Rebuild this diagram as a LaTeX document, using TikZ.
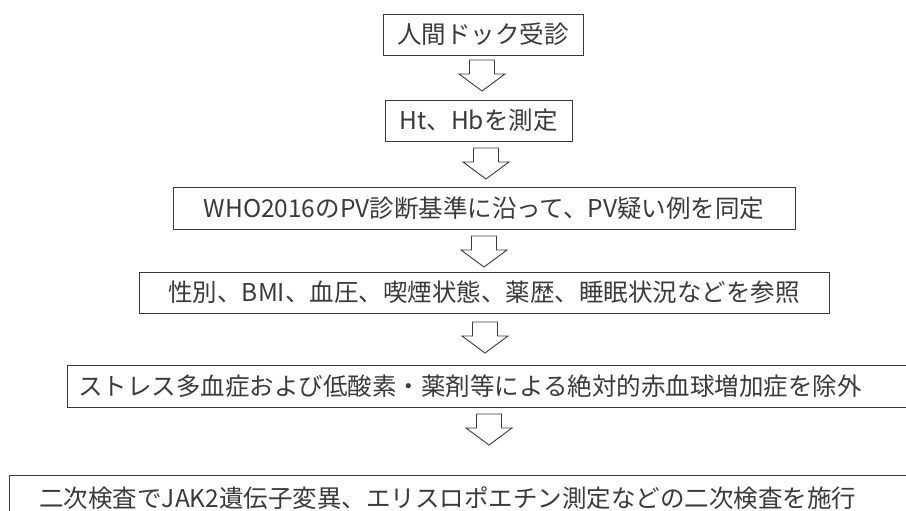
\documentclass[tikz,border=0pt]{standalone}
\usepackage{fontspec}
\setmainfont{Noto Sans CJK JP}
\usetikzlibrary{calc}
\definecolor{ink}{HTML}{3A3A3A}
\tikzset{
  box/.style={draw=ink, line width=0.9pt, text=ink, inner ysep=0pt, inner xsep=0pt,
    font=\fontsize{24.5}{28}\selectfont, minimum height=41pt},
  arrowline/.style={draw=ink, line width=0.9pt, line join=miter, fill=white},
  downarrow/.pic={\draw[arrowline] (-12.5,0) -- (-12.5,14) -- (-23,14) -- (0,31) -- (23,14) -- (12.5,14) -- (12.5,0) -- cycle;}
}
\begin{document}
\begin{tikzpicture}[x=1pt,y=-1pt]
\useasboundingbox[fill=white] (0,0) rectangle (906,511);
\clip (0,0) rectangle (906,511);
\node[box, minimum width=200pt] (b1) at (483,34.5) {人間ドック受診};
\node[box, minimum width=187pt] (b2) at (478.5,120.5) {Ht、Hbを測定};
\node[box, minimum width=622pt, minimum height=42pt] (b3) at (484,208) {WHO2016のPV診断基準に沿って、PV疑い例を同定};
\node[box, minimum width=690pt] (b4) at (484,292.5) {性別、BMI、血圧、喫煙状態、薬歴、睡眠状況などを参照};
\node[box, anchor=north west, inner xsep=11pt, text width=838pt, align=left, minimum height=42pt] (b5) at (67,365) {ストレス多血症および低酸素・薬剤等による絶対的赤血球増加症を除外};
\node[box, anchor=north west, inner xsep=30pt, text width=870pt, align=left, minimum height=45pt] (b6) at (9,475) {二次検査でJAK2遺伝子変異、エリスロポエチン測定などの二次検査を施行};
\pic at (482,60) {downarrow};
\pic at (486,148) {downarrow};
\pic at (484,236) {downarrow};
\pic at (485,322) {downarrow};
\pic at (489,414) {downarrow};
\end{tikzpicture}
\end{document}
